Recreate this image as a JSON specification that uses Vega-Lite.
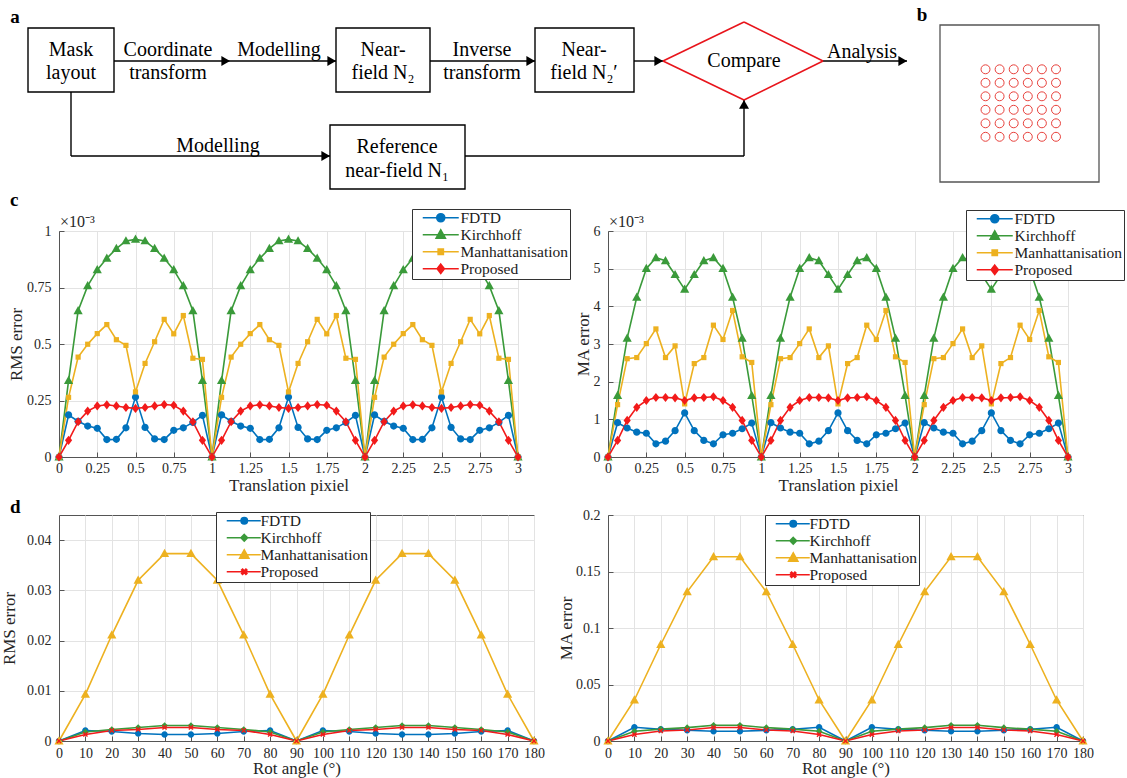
{
"$schema": "https://vega.github.io/schema/vega-lite/v6.json",
"padding": 0,
"background": "#ffffff",
"columns": 2,
"spacing": {"row": 58, "column": 74},
"bounds": "flush",
"align": "each",
"resolve": {"scale": {"color": "independent", "shape": "independent"}, "legend": {"color": "independent", "shape": "independent"}},
"config": {
  "font": "Liberation Serif",
  "view": {"stroke": "#555555", "strokeWidth": 1},
  "axis": {"labelFont": "Liberation Serif", "labelFontSize": 14, "labelColor": "#262626", "titleFont": "Liberation Serif", "titleFontSize": 17, "titleFontWeight": "normal", "titleColor": "#262626", "domainColor": "#555555", "tickColor": "#555555", "tickSize": -5, "gridColor": "#e3e3e3", "labelFlush": false, "labelOverlap": false, "labelExpr": "'' + datum.value"},
  "axisX": {"labelPadding": 9, "titlePadding": 2},
  "axisY": {"labelPadding": 13, "titlePadding": 1}
},
"datasets": {
"cL": [
{"t":0,"F":0,"K":0,"M":0,"P":0},
{"t":0.0625,"F":0.186,"K":0.338,"M":0.264,"P":0.074},
{"t":0.125,"F":0.158,"K":0.647,"M":0.442,"P":0.156},
{"t":0.1875,"F":0.137,"K":0.757,"M":0.499,"P":0.203},
{"t":0.25,"F":0.127,"K":0.828,"M":0.546,"P":0.226},
{"t":0.3125,"F":0.077,"K":0.879,"M":0.586,"P":0.231},
{"t":0.375,"F":0.078,"K":0.922,"M":0.519,"P":0.226},
{"t":0.4375,"F":0.129,"K":0.956,"M":0.494,"P":0.219},
{"t":0.5,"F":0.265,"K":0.963,"M":0.288,"P":0.215},
{"t":0.5625,"F":0.131,"K":0.956,"M":0.414,"P":0.219},
{"t":0.625,"F":0.080,"K":0.922,"M":0.510,"P":0.226},
{"t":0.6875,"F":0.077,"K":0.879,"M":0.609,"P":0.232},
{"t":0.75,"F":0.118,"K":0.828,"M":0.545,"P":0.229},
{"t":0.8125,"F":0.129,"K":0.757,"M":0.626,"P":0.203},
{"t":0.875,"F":0.153,"K":0.647,"M":0.437,"P":0.156},
{"t":0.9375,"F":0.184,"K":0.338,"M":0.432,"P":0.074},
{"t":1,"F":0,"K":0,"M":0,"P":0},
{"t":1.0625,"F":0.186,"K":0.338,"M":0.264,"P":0.074},
{"t":1.125,"F":0.158,"K":0.647,"M":0.442,"P":0.156},
{"t":1.1875,"F":0.137,"K":0.757,"M":0.499,"P":0.203},
{"t":1.25,"F":0.127,"K":0.828,"M":0.546,"P":0.226},
{"t":1.3125,"F":0.077,"K":0.879,"M":0.586,"P":0.231},
{"t":1.375,"F":0.078,"K":0.922,"M":0.519,"P":0.226},
{"t":1.4375,"F":0.129,"K":0.956,"M":0.494,"P":0.219},
{"t":1.5,"F":0.265,"K":0.963,"M":0.288,"P":0.215},
{"t":1.5625,"F":0.131,"K":0.956,"M":0.414,"P":0.219},
{"t":1.625,"F":0.080,"K":0.922,"M":0.510,"P":0.226},
{"t":1.6875,"F":0.077,"K":0.879,"M":0.609,"P":0.232},
{"t":1.75,"F":0.118,"K":0.828,"M":0.545,"P":0.229},
{"t":1.8125,"F":0.129,"K":0.757,"M":0.626,"P":0.203},
{"t":1.875,"F":0.153,"K":0.647,"M":0.437,"P":0.156},
{"t":1.9375,"F":0.184,"K":0.338,"M":0.432,"P":0.074},
{"t":2,"F":0,"K":0,"M":0,"P":0},
{"t":2.0625,"F":0.186,"K":0.338,"M":0.264,"P":0.074},
{"t":2.125,"F":0.158,"K":0.647,"M":0.442,"P":0.156},
{"t":2.1875,"F":0.137,"K":0.757,"M":0.499,"P":0.203},
{"t":2.25,"F":0.127,"K":0.828,"M":0.546,"P":0.226},
{"t":2.3125,"F":0.077,"K":0.879,"M":0.586,"P":0.231},
{"t":2.375,"F":0.078,"K":0.922,"M":0.519,"P":0.226},
{"t":2.4375,"F":0.129,"K":0.956,"M":0.494,"P":0.219},
{"t":2.5,"F":0.265,"K":0.963,"M":0.288,"P":0.215},
{"t":2.5625,"F":0.131,"K":0.956,"M":0.414,"P":0.219},
{"t":2.625,"F":0.080,"K":0.922,"M":0.510,"P":0.226},
{"t":2.6875,"F":0.077,"K":0.879,"M":0.609,"P":0.232},
{"t":2.75,"F":0.118,"K":0.828,"M":0.545,"P":0.229},
{"t":2.8125,"F":0.129,"K":0.757,"M":0.626,"P":0.203},
{"t":2.875,"F":0.153,"K":0.647,"M":0.437,"P":0.156},
{"t":2.9375,"F":0.184,"K":0.338,"M":0.432,"P":0.074},
{"t":3,"F":0,"K":0,"M":0,"P":0}
],
"cR": [
{"t":0,"F":0,"K":0,"M":0,"P":0},
{"t":0.0625,"F":0.91,"K":1.63,"M":1.39,"P":0.44},
{"t":0.125,"F":0.77,"K":3.15,"M":2.61,"P":0.97},
{"t":0.1875,"F":0.66,"K":4.24,"M":2.64,"P":1.32},
{"t":0.25,"F":0.63,"K":5.00,"M":3.01,"P":1.50},
{"t":0.3125,"F":0.35,"K":5.29,"M":3.40,"P":1.58},
{"t":0.375,"F":0.42,"K":5.21,"M":2.64,"P":1.58},
{"t":0.4375,"F":0.70,"K":4.84,"M":2.95,"P":1.57},
{"t":0.5,"F":1.17,"K":4.45,"M":1.41,"P":1.50},
{"t":0.5625,"F":0.70,"K":4.84,"M":2.48,"P":1.57},
{"t":0.625,"F":0.44,"K":5.21,"M":2.64,"P":1.58},
{"t":0.6875,"F":0.35,"K":5.29,"M":3.50,"P":1.60},
{"t":0.75,"F":0.59,"K":5.00,"M":3.12,"P":1.50},
{"t":0.8125,"F":0.63,"K":4.24,"M":3.89,"P":1.32},
{"t":0.875,"F":0.75,"K":3.15,"M":2.66,"P":0.97},
{"t":0.9375,"F":0.90,"K":1.63,"M":2.51,"P":0.44},
{"t":1,"F":0,"K":0,"M":0,"P":0},
{"t":1.0625,"F":0.91,"K":1.63,"M":1.39,"P":0.44},
{"t":1.125,"F":0.77,"K":3.15,"M":2.61,"P":0.97},
{"t":1.1875,"F":0.66,"K":4.24,"M":2.64,"P":1.32},
{"t":1.25,"F":0.63,"K":5.00,"M":3.01,"P":1.50},
{"t":1.3125,"F":0.35,"K":5.29,"M":3.40,"P":1.58},
{"t":1.375,"F":0.42,"K":5.21,"M":2.64,"P":1.58},
{"t":1.4375,"F":0.70,"K":4.84,"M":2.95,"P":1.57},
{"t":1.5,"F":1.17,"K":4.45,"M":1.41,"P":1.50},
{"t":1.5625,"F":0.70,"K":4.84,"M":2.48,"P":1.57},
{"t":1.625,"F":0.44,"K":5.21,"M":2.64,"P":1.58},
{"t":1.6875,"F":0.35,"K":5.29,"M":3.50,"P":1.60},
{"t":1.75,"F":0.59,"K":5.00,"M":3.12,"P":1.50},
{"t":1.8125,"F":0.63,"K":4.24,"M":3.89,"P":1.32},
{"t":1.875,"F":0.75,"K":3.15,"M":2.66,"P":0.97},
{"t":1.9375,"F":0.90,"K":1.63,"M":2.51,"P":0.44},
{"t":2,"F":0,"K":0,"M":0,"P":0},
{"t":2.0625,"F":0.91,"K":1.63,"M":1.39,"P":0.44},
{"t":2.125,"F":0.77,"K":3.15,"M":2.61,"P":0.97},
{"t":2.1875,"F":0.66,"K":4.24,"M":2.64,"P":1.32},
{"t":2.25,"F":0.63,"K":5.00,"M":3.01,"P":1.50},
{"t":2.3125,"F":0.35,"K":5.29,"M":3.40,"P":1.58},
{"t":2.375,"F":0.42,"K":5.21,"M":2.64,"P":1.58},
{"t":2.4375,"F":0.70,"K":4.84,"M":2.95,"P":1.57},
{"t":2.5,"F":1.17,"K":4.45,"M":1.41,"P":1.50},
{"t":2.5625,"F":0.70,"K":4.84,"M":2.48,"P":1.57},
{"t":2.625,"F":0.44,"K":5.21,"M":2.64,"P":1.58},
{"t":2.6875,"F":0.35,"K":5.29,"M":3.50,"P":1.60},
{"t":2.75,"F":0.59,"K":5.00,"M":3.12,"P":1.50},
{"t":2.8125,"F":0.63,"K":4.24,"M":3.89,"P":1.32},
{"t":2.875,"F":0.75,"K":3.15,"M":2.66,"P":0.97},
{"t":2.9375,"F":0.90,"K":1.63,"M":2.51,"P":0.44},
{"t":3,"F":0,"K":0,"M":0,"P":0}
],
"dL": [
{"a":0,"F":0,"K":0,"M":0,"P":0},
{"a":10,"F":0.0021,"K":0.0018,"M":0.0093,"P":0.0013},
{"a":20,"F":0.0019,"K":0.0023,"M":0.0211,"P":0.0021},
{"a":30,"F":0.0015,"K":0.0027,"M":0.0320,"P":0.0023},
{"a":40,"F":0.0013,"K":0.0031,"M":0.0373,"P":0.0027},
{"a":50,"F":0.0013,"K":0.0031,"M":0.0373,"P":0.0027},
{"a":60,"F":0.0015,"K":0.0027,"M":0.0320,"P":0.0023},
{"a":70,"F":0.0019,"K":0.0023,"M":0.0211,"P":0.0021},
{"a":80,"F":0.0021,"K":0.0018,"M":0.0093,"P":0.0013},
{"a":90,"F":0,"K":0,"M":0,"P":0},
{"a":100,"F":0.0021,"K":0.0018,"M":0.0093,"P":0.0013},
{"a":110,"F":0.0019,"K":0.0023,"M":0.0211,"P":0.0021},
{"a":120,"F":0.0015,"K":0.0027,"M":0.0320,"P":0.0023},
{"a":130,"F":0.0013,"K":0.0031,"M":0.0373,"P":0.0027},
{"a":140,"F":0.0013,"K":0.0031,"M":0.0373,"P":0.0027},
{"a":150,"F":0.0015,"K":0.0027,"M":0.0320,"P":0.0023},
{"a":160,"F":0.0019,"K":0.0023,"M":0.0211,"P":0.0021},
{"a":170,"F":0.0021,"K":0.0018,"M":0.0093,"P":0.0013},
{"a":180,"F":0,"K":0,"M":0,"P":0}
],
"dR": [
{"a":0,"F":0,"K":0,"M":0,"P":0},
{"a":10,"F":0.0122,"K":0.0086,"M":0.0363,"P":0.0057},
{"a":20,"F":0.0104,"K":0.0105,"M":0.0854,"P":0.0089},
{"a":30,"F":0.0095,"K":0.0118,"M":0.1320,"P":0.0098},
{"a":40,"F":0.0086,"K":0.0140,"M":0.1630,"P":0.0119},
{"a":50,"F":0.0086,"K":0.0140,"M":0.1630,"P":0.0119},
{"a":60,"F":0.0095,"K":0.0118,"M":0.1320,"P":0.0098},
{"a":70,"F":0.0104,"K":0.0105,"M":0.0854,"P":0.0089},
{"a":80,"F":0.0122,"K":0.0086,"M":0.0363,"P":0.0057},
{"a":90,"F":0,"K":0,"M":0,"P":0},
{"a":100,"F":0.0122,"K":0.0086,"M":0.0363,"P":0.0057},
{"a":110,"F":0.0104,"K":0.0105,"M":0.0854,"P":0.0089},
{"a":120,"F":0.0095,"K":0.0118,"M":0.1320,"P":0.0098},
{"a":130,"F":0.0086,"K":0.0140,"M":0.1630,"P":0.0119},
{"a":140,"F":0.0086,"K":0.0140,"M":0.1630,"P":0.0119},
{"a":150,"F":0.0095,"K":0.0118,"M":0.1320,"P":0.0098},
{"a":160,"F":0.0104,"K":0.0105,"M":0.0854,"P":0.0089},
{"a":170,"F":0.0122,"K":0.0086,"M":0.0363,"P":0.0057},
{"a":180,"F":0,"K":0,"M":0,"P":0}
]
},
"concat": [
{
  "width": 475, "height": 173,
  "view": {"stroke": null},
  "encoding": {
    "x": {"field": "x", "type": "quantitative", "scale": {"domain": [59, 534], "nice": false, "zero": false}, "axis": null},
    "y": {"field": "y", "type": "quantitative", "scale": {"domain": [0, 173], "nice": false, "zero": false, "reverse": true}, "axis": null}
  },
  "layer": [
    {"data": {"values": [{"x": 0, "y": 0, "x2": 1127, "y2": 778}]}, "mark": {"type": "rect", "opacity": 0}, "encoding": {"x2": {"field": "x2"}, "y2": {"field": "y2"}}},
    {"data": {"values": [{"x": 28, "x2": 114, "y": 28, "y2": 92}, {"x": 336, "x2": 430, "y": 28, "y2": 92}, {"x": 535, "x2": 634, "y": 28, "y2": 92}, {"x": 330, "x2": 465, "y": 125, "y2": 189}]},
     "mark": {"type": "rect", "fill": "#ffffff", "stroke": "#000000", "strokeWidth": 1.4}, "encoding": {"x2": {"field": "x2"}, "y2": {"field": "y2"}}},
    {"data": {"values": [{"x": 114, "x2": 336, "y": 61, "y2": 61}, {"x": 430, "x2": 535, "y": 61, "y2": 61}, {"x": 634, "x2": 663, "y": 61, "y2": 61}, {"x": 823, "x2": 907, "y": 61, "y2": 61}, {"x": 71, "x2": 71, "y": 92, "y2": 156}, {"x": 71, "x2": 330, "y": 156, "y2": 156}, {"x": 465, "x2": 744, "y": 156, "y2": 156}, {"x": 744, "x2": 744, "y": 156, "y2": 100}]},
     "mark": {"type": "rule", "color": "#000000", "strokeWidth": 1.4}, "encoding": {"x2": {"field": "x2"}, "y2": {"field": "y2"}}},
    {"data": {"values": [{"x": 663, "x2": 744, "y": 61, "y2": 22}, {"x": 744, "x2": 823, "y": 22, "y2": 61}, {"x": 823, "x2": 744, "y": 61, "y2": 100}, {"x": 744, "x2": 663, "y": 100, "y2": 61}]},
     "mark": {"type": "rule", "color": "#e8141b", "strokeWidth": 1.6}, "encoding": {"x2": {"field": "x2"}, "y2": {"field": "y2"}}},
    {"data": {"values": [{"x": 225.7, "y": 61, "d": "right"}, {"x": 331.7, "y": 61, "d": "right"}, {"x": 530.7, "y": 61, "d": "right"}, {"x": 658.7, "y": 61, "d": "right"}, {"x": 902.7, "y": 61, "d": "right"}, {"x": 325.7, "y": 156, "d": "right"}, {"x": 744, "y": 104.3, "d": "up"}]},
     "mark": {"type": "point", "filled": true, "color": "#000000", "size": 100, "opacity": 1}, "encoding": {"shape": {"field": "d", "type": "nominal", "scale": {"domain": ["right", "up"], "range": ["triangle-right", "triangle-up"]}, "legend": null}}},
    {"data": {"values": [
       {"x": 71, "y": 50, "s": "Mask"}, {"x": 71, "y": 73, "s": "layout"},
       {"x": 168, "y": 50, "s": "Coordinate"}, {"x": 168, "y": 73, "s": "transform"},
       {"x": 279, "y": 50, "s": "Modelling"},
       {"x": 383, "y": 50, "s": "Near-"}, {"x": 383, "y": 73, "s": "field N₂"},
       {"x": 482, "y": 50, "s": "Inverse"}, {"x": 482, "y": 73, "s": "transform"},
       {"x": 584, "y": 50, "s": "Near-"}, {"x": 584, "y": 73, "s": "field N₂′"},
       {"x": 744, "y": 61, "s": "Compare"},
       {"x": 862, "y": 52, "s": "Analysis"},
       {"x": 218, "y": 146, "s": "Modelling"},
       {"x": 397, "y": 147, "s": "Reference"}, {"x": 397, "y": 171, "s": "near-field N₁"}]},
     "mark": {"type": "text", "font": "Liberation Serif", "fontSize": 20, "color": "#000000", "align": "center", "baseline": "middle"}, "encoding": {"text": {"field": "s"}}},
    {"data": {"values": [{"x": 15, "y": 17, "s": "a"}]},
     "mark": {"type": "text", "font": "Liberation Serif", "fontSize": 19, "fontWeight": "bold", "color": "#000000", "align": "center", "baseline": "middle"}, "encoding": {"text": {"field": "s"}}}
  ]
},
{
  "width": 475, "height": 173,
  "view": {"stroke": null},
  "encoding": {
    "x": {"field": "x", "type": "quantitative", "scale": {"domain": [608, 1083], "nice": false, "zero": false}, "axis": null},
    "y": {"field": "y", "type": "quantitative", "scale": {"domain": [0, 173], "nice": false, "zero": false, "reverse": true}, "axis": null}
  },
  "layer": [
    {"data": {"values": [{"x": 940, "x2": 1099, "y": 25, "y2": 182}]}, "mark": {"type": "rect", "filled": false, "color": "#555555", "strokeWidth": 1.3}, "encoding": {"x2": {"field": "x2"}, "y2": {"field": "y2"}}},
    {"data": {"values": [
      {"x":985.5,"y":69.3},{"x":999.6,"y":69.3},{"x":1013.7,"y":69.3},{"x":1027.8,"y":69.3},{"x":1041.9,"y":69.3},{"x":1056,"y":69.3},
      {"x":985.5,"y":82.8},{"x":999.6,"y":82.8},{"x":1013.7,"y":82.8},{"x":1027.8,"y":82.8},{"x":1041.9,"y":82.8},{"x":1056,"y":82.8},
      {"x":985.5,"y":96.3},{"x":999.6,"y":96.3},{"x":1013.7,"y":96.3},{"x":1027.8,"y":96.3},{"x":1041.9,"y":96.3},{"x":1056,"y":96.3},
      {"x":985.5,"y":109.8},{"x":999.6,"y":109.8},{"x":1013.7,"y":109.8},{"x":1027.8,"y":109.8},{"x":1041.9,"y":109.8},{"x":1056,"y":109.8},
      {"x":985.5,"y":123.3},{"x":999.6,"y":123.3},{"x":1013.7,"y":123.3},{"x":1027.8,"y":123.3},{"x":1041.9,"y":123.3},{"x":1056,"y":123.3},
      {"x":985.5,"y":136.8},{"x":999.6,"y":136.8},{"x":1013.7,"y":136.8},{"x":1027.8,"y":136.8},{"x":1041.9,"y":136.8},{"x":1056,"y":136.8}]},
     "mark": {"type": "point", "shape": "circle", "size": 80, "filled": false, "color": "#e8413c", "strokeWidth": 1, "opacity": 1}},
    {"data": {"values": [{"x": 922, "y": 15, "s": "b"}]},
     "mark": {"type": "text", "font": "Liberation Serif", "fontSize": 19, "fontWeight": "bold", "color": "#000000", "align": "center", "baseline": "middle"}, "encoding": {"text": {"field": "s"}}}
  ]
},
{
  "width": 459, "height": 226,
  "title": {"text": "c", "anchor": "start", "frame": "group", "baseline": "alphabetic", "offset": 5, "dx": -49, "dy": 21, "fontSize": 19, "fontWeight": "bold", "font": "Liberation Serif", "color": "#000000"},
  "encoding": {
    "x": {"field": "t", "type": "quantitative", "scale": {"domain": [0, 3], "nice": false, "zero": false}, "axis": {"values": [0,0.25,0.5,0.75,1,1.25,1.5,1.75,2,2.25,2.5,2.75,3], "title": "Translation pixiel"}},
    "y": {"field": "v", "type": "quantitative", "scale": {"domain": [0, 1], "nice": false, "zero": false}, "axis": {"values": [0,0.25,0.5,0.75,1], "title": "RMS error"}},
    "color": {"field": "m", "type": "nominal", "scale": {"domain": ["F","K","M","P"], "range": ["#0072BD","#3A9A3A","#EDB120","#F21A1A"]},
         "legend": {"orient": "none", "legendX": 353, "legendY": -22, "title": null, "padding": 1, "strokeColor": "#333333", "fillColor": "#ffffff", "symbolSize": 4, "labelOffset": 32, "rowPadding": -4, "labelFont": "Liberation Serif", "labelFontSize": 15.5, "labelColor": "#1a1a1a", "labelLimit": 0, "symbolStrokeWidth": 1.6, "symbolOpacity": 1,
           "labelExpr": "datum.value==='F'?'FDTD':datum.value==='K'?'Kirchhoff':datum.value==='M'?'Manhattanisation':'Proposed'",
           "encoding": {"symbols": {
             "shape": {"value": {"expr": "datum.value==='F'?'M2,0H38M24,0A4,4,0,1,1,16,0A4,4,0,1,1,24,0Z':datum.value==='K'?'M2,0H38M20,-4.8L24.6,3.4L15.4,3.4Z':datum.value==='M'?'M2,0H38M17.4,-2.6H22.6V2.6H17.4Z':'M2,0H38M20,-4.6L23.6,0L20,4.6L16.4,0Z'"}},
             "stroke": {"value": {"expr": "datum.value==='F'?'#0072BD':datum.value==='K'?'#3A9A3A':datum.value==='M'?'#EDB120':'#F21A1A'"}},
             "fill": {"value": {"expr": "datum.value==='F'?'#0072BD':datum.value==='K'?'#3A9A3A':datum.value==='M'?'#EDB120':'#F21A1A'"}}}}}}
  },
  "layer": [
    {"data": {"name": "cL"}, "transform": [{"fold": ["F","K","M","P"], "as": ["m","v"]}],
     "mark": {"type": "line", "strokeWidth": 1.6}},
    {"data": {"name": "cL"}, "transform": [{"fold": ["F","K","M","P"], "as": ["m","v"]}],
     "mark": {"type": "point", "filled": true, "opacity": 1, "size": 4},
     "encoding": {
       "shape": {"field": "m", "type": "nominal", "scale": {"range": ["M3.6,0A3.6,3.6,0,1,1,-3.6,0A3.6,3.6,0,1,1,3.6,0Z","M0,-4.8L4.6,3.4L-4.6,3.4Z","M-2.6,-2.6H2.6V2.6H-2.6Z","M0,-4.6L3.6,0L0,4.6L-3.6,0Z"]}, "legend": null}}},
    {"data": {"values": [{"t": 0, "v": 1, "lab": "×10⁻³"}]}, "mark": {"type": "text", "align": "left", "baseline": "alphabetic", "dx": 1, "dy": -4, "fontSize": 16, "font": "Liberation Serif"},
     "encoding": {"text": {"field": "lab"}, "color": {"value": "#262626"}}}
  ]
},
{
  "width": 460, "height": 226,
  "encoding": {
    "x": {"field": "t", "type": "quantitative", "scale": {"domain": [0, 3], "nice": false, "zero": false}, "axis": {"values": [0,0.25,0.5,0.75,1,1.25,1.5,1.75,2,2.25,2.5,2.75,3], "title": "Translation pixiel"}},
    "y": {"field": "v", "type": "quantitative", "scale": {"domain": [0, 6], "nice": false, "zero": false}, "axis": {"values": [0,1,2,3,4,5,6], "title": "MA error"}},
    "color": {"field": "m", "type": "nominal", "scale": {"domain": ["F","K","M","P"], "range": ["#0072BD","#3A9A3A","#EDB120","#F21A1A"]},
         "legend": {"orient": "none", "legendX": 358, "legendY": -21, "title": null, "padding": 1, "strokeColor": "#333333", "fillColor": "#ffffff", "symbolSize": 4, "labelOffset": 32, "rowPadding": -4, "labelFont": "Liberation Serif", "labelFontSize": 15.5, "labelColor": "#1a1a1a", "labelLimit": 0, "symbolStrokeWidth": 1.6, "symbolOpacity": 1,
           "labelExpr": "datum.value==='F'?'FDTD':datum.value==='K'?'Kirchhoff':datum.value==='M'?'Manhattanisation':'Proposed'",
           "encoding": {"symbols": {
             "shape": {"value": {"expr": "datum.value==='F'?'M2,0H38M24,0A4,4,0,1,1,16,0A4,4,0,1,1,24,0Z':datum.value==='K'?'M2,0H38M20,-4.8L24.6,3.4L15.4,3.4Z':datum.value==='M'?'M2,0H38M17.4,-2.6H22.6V2.6H17.4Z':'M2,0H38M20,-4.6L23.6,0L20,4.6L16.4,0Z'"}},
             "stroke": {"value": {"expr": "datum.value==='F'?'#0072BD':datum.value==='K'?'#3A9A3A':datum.value==='M'?'#EDB120':'#F21A1A'"}},
             "fill": {"value": {"expr": "datum.value==='F'?'#0072BD':datum.value==='K'?'#3A9A3A':datum.value==='M'?'#EDB120':'#F21A1A'"}}}}}}
  },
  "layer": [
    {"data": {"name": "cR"}, "transform": [{"fold": ["F","K","M","P"], "as": ["m","v"]}],
     "mark": {"type": "line", "strokeWidth": 1.6}},
    {"data": {"name": "cR"}, "transform": [{"fold": ["F","K","M","P"], "as": ["m","v"]}],
     "mark": {"type": "point", "filled": true, "opacity": 1, "size": 4},
     "encoding": {
       "shape": {"field": "m", "type": "nominal", "scale": {"range": ["M3.6,0A3.6,3.6,0,1,1,-3.6,0A3.6,3.6,0,1,1,3.6,0Z","M0,-4.8L4.6,3.4L-4.6,3.4Z","M-2.6,-2.6H2.6V2.6H-2.6Z","M0,-4.6L3.6,0L0,4.6L-3.6,0Z"]}, "legend": null}}},
    {"data": {"values": [{"t": 0, "v": 6, "lab": "×10⁻³"}]}, "mark": {"type": "text", "align": "left", "baseline": "alphabetic", "dx": 1, "dy": -4, "fontSize": 16, "font": "Liberation Serif"},
     "encoding": {"text": {"field": "lab"}, "color": {"value": "#262626"}}}
  ]
},
{
  "width": 475, "height": 226,
  "title": {"text": "d", "anchor": "start", "frame": "group", "baseline": "alphabetic", "offset": 1, "dx": -49, "dy": 21, "fontSize": 19, "fontWeight": "bold", "font": "Liberation Serif", "color": "#000000"},
  "encoding": {
    "x": {"field": "a", "type": "quantitative", "scale": {"domain": [0, 180], "nice": false, "zero": false}, "axis": {"values": [0,10,20,30,40,50,60,70,80,90,100,110,120,130,140,150,160,170,180], "title": "Rot angle (°)", "labelPadding": 10, "titlePadding": 0}},
    "y": {"field": "v", "type": "quantitative", "scale": {"domain": [0, 0.045], "nice": false, "zero": false}, "axis": {"values": [0,0.01,0.02,0.03,0.04], "title": "RMS error", "titlePadding": 8}},
    "color": {"field": "m", "type": "nominal", "scale": {"domain": ["F","K","M","P"], "range": ["#0072BD","#3A9A3A","#EDB120","#F21A1A"]},
         "legend": {"orient": "none", "legendX": 157, "legendY": -3, "title": null, "padding": 1, "strokeColor": "#333333", "fillColor": "#ffffff", "symbolSize": 4, "labelOffset": 28, "rowPadding": -4, "labelFont": "Liberation Serif", "labelFontSize": 15.5, "labelColor": "#1a1a1a", "labelLimit": 0, "symbolStrokeWidth": 1.6, "symbolOpacity": 1,
           "labelExpr": "datum.value==='F'?'FDTD':datum.value==='K'?'Kirchhoff':datum.value==='M'?'Manhattanisation':'Proposed'",
           "encoding": {"symbols": {
             "shape": {"value": {"expr": "datum.value==='F'?'M2,0H36M22.7,0A3.2,3.2,0,1,1,16.3,0A3.2,3.2,0,1,1,22.7,0Z':datum.value==='K'?'M2,0H36M19.5,-3.3L22.8,0L19.5,3.3L16.2,0Z':datum.value==='M'?'M2,0H36M19.5,-4.8L24.1,3.4L14.9,3.4Z':'M2,0H36M21.13,-2.62L22.12,-1.63L20.49,0L22.12,1.63L21.13,2.62L19.5,0.99L17.87,2.62L16.88,1.63L18.51,0L16.88,-1.63L17.87,-2.62L19.5,-0.99Z'"}},
             "stroke": {"value": {"expr": "datum.value==='F'?'#0072BD':datum.value==='K'?'#3A9A3A':datum.value==='M'?'#EDB120':'#F21A1A'"}},
             "fill": {"value": {"expr": "datum.value==='F'?'#0072BD':datum.value==='K'?'#3A9A3A':datum.value==='M'?'#EDB120':'#F21A1A'"}}}}}}
  },
  "layer": [
    {"data": {"name": "dL"}, "transform": [{"fold": ["F","K","M","P"], "as": ["m","v"]}],
     "mark": {"type": "line", "strokeWidth": 1.6}},
    {"data": {"name": "dL"}, "transform": [{"fold": ["F","K","M","P"], "as": ["m","v"]}],
     "mark": {"type": "point", "filled": true, "opacity": 1, "size": 4},
     "encoding": {
       "shape": {"field": "m", "type": "nominal", "scale": {"range": ["M3.2,0A3.2,3.2,0,1,1,-3.2,0A3.2,3.2,0,1,1,3.2,0Z","M0,-3.3L3.3,0L0,3.3L-3.3,0Z","M0,-4.8L4.6,3.4L-4.6,3.4Z","M1.63,-2.62L2.62,-1.63L0.99,0L2.62,1.63L1.63,2.62L0,0.99L-1.63,2.62L-2.62,1.63L-0.99,0L-2.62,-1.63L-1.63,-2.62L0,-0.99Z"]}, "legend": null}}}
  ]
},
{
  "width": 475, "height": 226,
  "encoding": {
    "x": {"field": "a", "type": "quantitative", "scale": {"domain": [0, 180], "nice": false, "zero": false}, "axis": {"values": [0,10,20,30,40,50,60,70,80,90,100,110,120,130,140,150,160,170,180], "title": "Rot angle (°)", "labelPadding": 10, "titlePadding": 0}},
    "y": {"field": "v", "type": "quantitative", "scale": {"domain": [0, 0.2], "nice": false, "zero": false}, "axis": {"values": [0,0.05,0.1,0.15,0.2], "title": "MA error", "titlePadding": 0}},
    "color": {"field": "m", "type": "nominal", "scale": {"domain": ["F","K","M","P"], "range": ["#0072BD","#3A9A3A","#EDB120","#F21A1A"]},
         "legend": {"orient": "none", "legendX": 157, "legendY": 0, "title": null, "padding": 1, "strokeColor": "#333333", "fillColor": "#ffffff", "symbolSize": 4, "labelOffset": 28, "rowPadding": -4, "labelFont": "Liberation Serif", "labelFontSize": 15.5, "labelColor": "#1a1a1a", "labelLimit": 0, "symbolStrokeWidth": 1.6, "symbolOpacity": 1,
           "labelExpr": "datum.value==='F'?'FDTD':datum.value==='K'?'Kirchhoff':datum.value==='M'?'Manhattanisation':'Proposed'",
           "encoding": {"symbols": {
             "shape": {"value": {"expr": "datum.value==='F'?'M2,0H36M22.7,0A3.2,3.2,0,1,1,16.3,0A3.2,3.2,0,1,1,22.7,0Z':datum.value==='K'?'M2,0H36M19.5,-3.3L22.8,0L19.5,3.3L16.2,0Z':datum.value==='M'?'M2,0H36M19.5,-4.8L24.1,3.4L14.9,3.4Z':'M2,0H36M21.13,-2.62L22.12,-1.63L20.49,0L22.12,1.63L21.13,2.62L19.5,0.99L17.87,2.62L16.88,1.63L18.51,0L16.88,-1.63L17.87,-2.62L19.5,-0.99Z'"}},
             "stroke": {"value": {"expr": "datum.value==='F'?'#0072BD':datum.value==='K'?'#3A9A3A':datum.value==='M'?'#EDB120':'#F21A1A'"}},
             "fill": {"value": {"expr": "datum.value==='F'?'#0072BD':datum.value==='K'?'#3A9A3A':datum.value==='M'?'#EDB120':'#F21A1A'"}}}}}}
  },
  "layer": [
    {"data": {"name": "dR"}, "transform": [{"fold": ["F","K","M","P"], "as": ["m","v"]}],
     "mark": {"type": "line", "strokeWidth": 1.6}},
    {"data": {"name": "dR"}, "transform": [{"fold": ["F","K","M","P"], "as": ["m","v"]}],
     "mark": {"type": "point", "filled": true, "opacity": 1, "size": 4},
     "encoding": {
       "shape": {"field": "m", "type": "nominal", "scale": {"range": ["M3.2,0A3.2,3.2,0,1,1,-3.2,0A3.2,3.2,0,1,1,3.2,0Z","M0,-3.3L3.3,0L0,3.3L-3.3,0Z","M0,-4.8L4.6,3.4L-4.6,3.4Z","M1.63,-2.62L2.62,-1.63L0.99,0L2.62,1.63L1.63,2.62L0,0.99L-1.63,2.62L-2.62,1.63L-0.99,0L-2.62,-1.63L-1.63,-2.62L0,-0.99Z"]}, "legend": null}}}
  ]
}
]
}
